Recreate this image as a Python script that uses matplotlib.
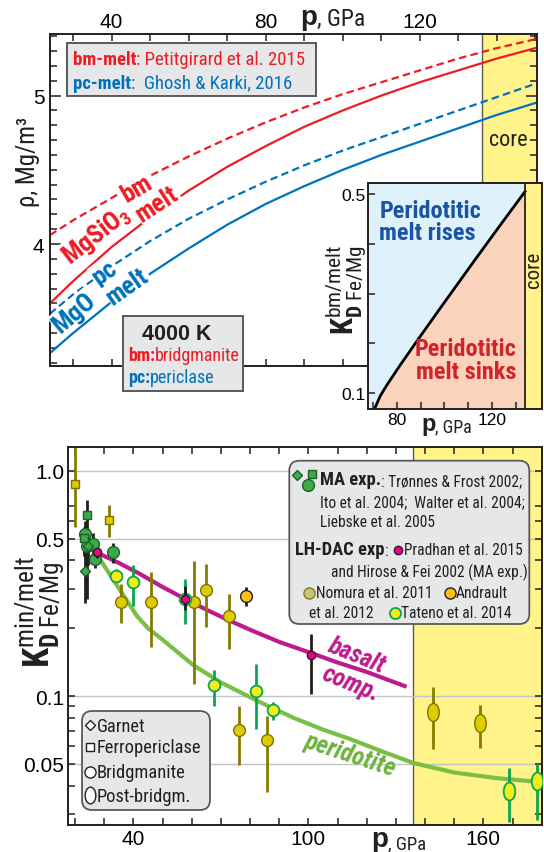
import numpy as np
import matplotlib
matplotlib.use('Agg')
import matplotlib.pyplot as plt
from matplotlib import font_manager as fm
from matplotlib.patches import Rectangle, FancyBboxPatch
from matplotlib.path import Path
from matplotlib.ticker import FixedLocator, FixedFormatter, NullFormatter

# ---- fonts: look for a condensed sans, else fall back to Liberation Sans ----
ttf = fm.fontManager.ttflist
names = {f.name for f in ttf}
WIDE = 'Liberation Sans' if 'Liberation Sans' in names else 'DejaVu Sans'
NARROW = None
for n in ['Liberation Sans Narrow', 'Arial Narrow', 'Roboto Condensed', 'Noto Sans Condensed',
          'Noto Sans SemiCondensed', 'Open Sans Condensed', 'DejaVu Sans Condensed']:
    if n in names:
        NARROW = dict(family=n)
        break
if NARROW is None:
    for fam in ['Noto Sans', 'Open Sans', 'Roboto', 'DejaVu Sans', 'Liberation Sans']:
        st = {f.stretch for f in ttf if f.name == fam}
        if 'semi-condensed' in st:
            NARROW = dict(family=fam, stretch='semi-condensed')
        elif 'condensed' in st:
            NARROW = dict(family=fam, stretch='condensed')
        if NARROW:
            break
SC = 1.0
if NARROW is None:
    NARROW = dict(family=WIDE)
    SC = 0.86
_suffix = (':' + NARROW['stretch']) if 'stretch' in NARROW else ''

plt.rcParams['font.family'] = [WIDE, 'DejaVu Sans']
plt.rcParams['mathtext.fontset'] = 'custom'
plt.rcParams['mathtext.rm'] = NARROW['family'] + _suffix
plt.rcParams['mathtext.bf'] = NARROW['family'] + ':bold' + _suffix
plt.rcParams['mathtext.it'] = NARROW['family'] + ':italic' + _suffix


def nf(size):
    return size * SC


# ---- top panel: density at 4000 K ----
p_rho = [24, 30, 40, 50, 60, 70, 80, 90, 100, 110, 120, 130, 140, 150]
rho_bm = [4.06, 4.16, 4.31, 4.46, 4.59, 4.71, 4.82, 4.92, 5.01, 5.09, 5.17, 5.25, 5.32, 5.38]
rho_bm_melt = [3.60, 3.75, 3.98, 4.18, 4.36, 4.52, 4.66, 4.79, 4.90, 5.00, 5.09, 5.17, 5.25, 5.32]
rho_pc = [3.53, 3.66, 3.85, 4.02, 4.17, 4.30, 4.42, 4.53, 4.63, 4.72, 4.81, 4.90, 4.99, 5.08]
rho_pc_melt = [3.265, 3.40, 3.61, 3.80, 3.97, 4.13, 4.27, 4.39, 4.50, 4.60, 4.69, 4.78, 4.87, 4.95]

# ---- inset: KD bm/melt boundary ----
p_in = [70.6, 73, 75.8, 81.4, 88.4, 98.2, 112.2, 123.5, 134]
kd_in = [0.068, 0.094, 0.116, 0.156, 0.204, 0.27, 0.363, 0.437, 0.505]

# ---- bottom panel curves ----
p_bas = [27.4, 35, 42.3, 50, 57.7, 65, 72, 80, 90, 101.7, 110, 120, 133.7]
kd_bas = [0.434, 0.39, 0.348, 0.305, 0.27, 0.242, 0.219, 0.197, 0.174, 0.154, 0.141, 0.128, 0.110]
p_per = [27.4, 33, 41.2, 45, 50, 60.6, 70, 83.4, 95, 105, 114.3, 125, 136, 150, 165, 181]
kd_per = [0.427, 0.33, 0.227, 0.2, 0.178, 0.137, 0.115, 0.094, 0.08, 0.071, 0.0645, 0.057,
          0.0505, 0.0458, 0.0432, 0.0414]

# MA experiments (green): bridgmanite, ferropericlase, garnet
ma_bm_p = [23.4, 24.0, 26.3, 26.9, 32.9]
ma_bm_k = [0.524, 0.462, 0.473, 0.406, 0.434]
ma_bm_lo = [0.44, 0.27, 0.41, 0.37, 0.39]
ma_bm_hi = [0.60, 0.55, 0.53, 0.44, 0.48]
ma_fp_p = [24.2, 23.1]
ma_fp_k = [0.636, 0.501]
ma_fp_lo = [0.50, 0.42]
ma_fp_hi = [0.74, 0.56]
ma_gt_p = [24.6, 23.4]
ma_gt_k = [0.465, 0.360]
ma_gt_lo = [0.38, 0.26]
ma_gt_hi = [0.55, 0.44]

# Nomura et al. 2011
nom_fp_p = [20.0, 31.8]
nom_fp_k = [0.873, 0.606]
nom_fp_lo = [0.561, 0.506]
nom_fp_hi = [1.4, 0.704]
nom_bm_p = [35.8, 46.1, 60.9, 64.8, 72.9, 76.1, 85.7]
nom_bm_k = [0.262, 0.261, 0.261, 0.296, 0.226, 0.0705, 0.0641]
nom_bm_lo = [0.212, 0.165, 0.113, 0.202, 0.162, 0.0494, 0.0375]
nom_bm_hi = [0.314, 0.354, 0.399, 0.386, 0.284, 0.0905, 0.0819]
nom_pbm_p = [142.8, 159.0]
nom_pbm_k = [0.085, 0.0758]
nom_pbm_lo = [0.0585, 0.0591]
nom_pbm_hi = [0.110, 0.0912]

# Tateno et al. 2014
tat_bm_p = [34.0, 39.8, 57.7, 67.8, 82.0, 87.8]
tat_bm_k = [0.342, 0.320, 0.270, 0.112, 0.105, 0.0868]
tat_bm_lo = [0.321, 0.252, 0.209, 0.0903, 0.0717, 0.078]
tat_bm_hi = [0.366, 0.381, 0.33, 0.130, 0.139, 0.0938]
tat_pbm_p = [168.9, 178.5]
tat_pbm_k = [0.038, 0.0421]
tat_pbm_lo = [0.0276, 0.0282]
tat_pbm_hi = [0.0481, 0.0502]

# Pradhan et al. 2015 / Hirose & Fei 2002
pra_p = [27.4, 57.7, 100.8]
pra_k = [0.434, 0.270, 0.152]
pra_lo = [0.41, 0.24, 0.102]
pra_hi = [0.45, 0.309, 0.189]

# Andrault et al. 2012
and_p = [78.5]
and_k = [0.277]
and_lo = [0.252]
and_hi = [0.304]

RED = '#ed1c24'
BLUE = '#0072bc'
CORE = '#fff38a'
DARK = '#231f20'
GRAYBOX = '#e6e7e8'
MAG = '#bd1b8d'
GRN = '#79bf43'
MA_F, MA_E = '#3daa4a', '#1f5f2b'
NOM_F, NOM_E = '#dfcb00', '#7d7300'
TAT_F, TAT_E = '#f4ec18', '#0aa64f'
AND_F = '#fdc010'
PRA_F = '#ec008c'

W, H = 544, 853
fig = plt.figure(figsize=(W / 100, H / 100), dpi=100)


def box(x0, y0, x1, y1):
    return [x0 / W, 1 - y1 / H, (x1 - x0) / W, (y1 - y0) / H]


def style_spines(ax, lw=1.4):
    for s in ax.spines.values():
        s.set_linewidth(lw)
        s.set_color(DARK)


# ================= top panel =================
ax1 = fig.add_axes(box(50, 35, 537, 366.7))
ax1.axvspan(136, 160, color=CORE, lw=0, zorder=0)
ax1.axvline(136, color='#58595b', lw=1, zorder=0.5)
dash = (0, (3.4, 1.9))
ax1.plot(p_rho, rho_bm, color=RED, lw=1.6, ls=dash)
ax1.plot(p_rho, rho_bm_melt, color=RED, lw=1.6)
ax1.plot(p_rho, rho_pc, color=BLUE, lw=1.6, ls=dash)
ax1.plot(p_rho, rho_pc_melt, color=BLUE, lw=1.6)
ax1.set_xlim(24, 150.4)
ax1.set_ylim(3.18, 5.415)
ax1.xaxis.set_major_locator(FixedLocator([40, 80, 120]))
ax1.xaxis.set_minor_locator(FixedLocator(list(range(30, 151, 10))))
ax1.yaxis.set_major_locator(FixedLocator([4, 5]))
ax1.yaxis.set_minor_locator(FixedLocator(np.arange(3.2, 5.45, 0.1)))
ax1.tick_params(axis='x', which='both', direction='in', top=True, bottom=True,
                labeltop=True, labelbottom=False, length=5, width=1.1, color=DARK,
                labelsize=15, pad=2)
ax1.tick_params(axis='y', which='both', direction='in', left=True, right=True,
                length=5, width=1.1, color=DARK, labelsize=15, pad=4)
ax1.tick_params(axis='y', which='major', length=8)
style_spines(ax1)

# ================= inset =================
ax2 = fig.add_axes(box(368.3, 184, 541.7, 410))
ax2.set_zorder(3)
ax2.set_facecolor('#dff1fb')
ax2.fill_between(p_in, 0, kd_in, color='#fbd3bd', lw=0)
ax2.plot(p_in, kd_in, color='k', lw=2)
ax2.axvspan(134, 145, color=CORE, lw=0)
ax2.axvline(134, color=DARK, lw=1.3)
ax2.set_xlim(68, 141)
ax2.set_ylim(0.068, 0.522)
ax2.xaxis.set_major_locator(FixedLocator([80, 120]))
ax2.xaxis.set_minor_locator(FixedLocator([70, 90, 100, 110, 130]))
ax2.yaxis.set_major_locator(FixedLocator([0.1, 0.5]))
ax2.yaxis.set_major_formatter(FixedFormatter(['0.1', '0.5']))
ax2.yaxis.set_minor_locator(FixedLocator([0.2, 0.3, 0.4]))
ax2.tick_params(which='both', direction='in', length=5, width=1.1, color=DARK,
                labelsize=12.5, pad=2)
style_spines(ax2)

# ================= bottom panel =================
ax3 = fig.add_axes(box(68.3, 448.3, 542, 826))
ax3.set_yscale('log')
ax3.axvspan(136, 190, color=CORE, lw=0, zorder=0)
ax3.axvline(136, color='#58595b', lw=1, zorder=0.5)
for g in [1.0, 0.5, 0.1, 0.05]:
    ax3.axhline(g, color='#c3c4c6', lw=1, zorder=0.6)
ax3.plot(p_bas, kd_bas, color=MAG, lw=3, zorder=1.5, solid_capstyle='butt')
ax3.plot(p_per, kd_per, color=GRN, lw=3, zorder=1.5, solid_capstyle='butt')

ell = Path.unit_circle()
ELL = Path(ell.vertices * np.array([0.64, 1.0]), ell.codes)


def errs(p, lo, hi, c, z=2):
    ax3.vlines(p, lo, hi, color=c, lw=2.0, zorder=z)


def pts(p, k, m, ms, fc, ec, z=3, mew=1.0):
    ax3.plot(p, k, ls='none', marker=m, ms=ms, mfc=fc, mec=ec, mew=mew, zorder=z)


errs(nom_fp_p, nom_fp_lo, nom_fp_hi, '#857b00')
errs(nom_bm_p, nom_bm_lo, nom_bm_hi, '#857b00')
errs(nom_pbm_p, nom_pbm_lo, nom_pbm_hi, '#857b00')
errs(tat_bm_p, tat_bm_lo, tat_bm_hi, TAT_E)
errs(tat_pbm_p, tat_pbm_lo, tat_pbm_hi, TAT_E)
errs(ma_bm_p, ma_bm_lo, ma_bm_hi, DARK)
errs(ma_fp_p, ma_fp_lo, ma_fp_hi, DARK)
errs(ma_gt_p, ma_gt_lo, ma_gt_hi, DARK)
errs(and_p, and_lo, and_hi, DARK)
errs(pra_p, pra_lo, pra_hi, DARK, z=3.5)

pts(nom_fp_p, nom_fp_k, 's', 6, NOM_F, NOM_E)
pts(nom_bm_p, nom_bm_k, 'o', 8.5, NOM_F, NOM_E)
pts(nom_pbm_p, nom_pbm_k, ELL, 13, NOM_F, NOM_E)
pts(tat_bm_p, tat_bm_k, 'o', 8.5, TAT_F, TAT_E, mew=1.3)
pts(tat_pbm_p, tat_pbm_k, ELL, 13, TAT_F, TAT_E, mew=1.3)
pts(ma_bm_p, ma_bm_k, 'o', 8.5, MA_F, MA_E)
pts(ma_fp_p, ma_fp_k, 's', 6, MA_F, MA_E)
pts(ma_gt_p, ma_gt_k, 'D', 5.5, MA_F, MA_E)
pts(and_p, and_k, 'o', 8.5, AND_F, DARK)
pts(pra_p, pra_k, 'o', 6, PRA_F, DARK, z=4)

ax3.set_xlim(17.7, 180.1)
ax3.set_ylim(0.0268, 1.27)
ax3.xaxis.set_major_locator(FixedLocator([40, 100, 160]))
ax3.xaxis.set_minor_locator(FixedLocator(list(range(20, 181, 10))))
ax3.yaxis.set_major_locator(FixedLocator([0.05, 0.1, 0.5, 1.0]))
ax3.yaxis.set_major_formatter(FixedFormatter(['0.05', '0.1', '0.5', '1.0']))
ax3.yaxis.set_minor_locator(FixedLocator([0.03, 0.04, 0.06, 0.07, 0.08, 0.09,
                                          0.2, 0.3, 0.4, 0.6, 0.7]))
ax3.yaxis.set_minor_formatter(NullFormatter())
ax3.tick_params(which='both', direction='in', top=True, right=True, length=5,
                width=1.1, color=DARK, labelsize=15, pad=3)
style_spines(ax3)

# ================= overlay (pixel coordinates) =================
ov = fig.add_axes([0, 0, 1, 1])
ov.set_xlim(0, W)
ov.set_ylim(H, 0)
ov.axis('off')
ov.patch.set_visible(False)
ov.set_zorder(5)


def chain(x, y, parts, **kw):
    t = ov.text(x, y, parts[0][0], va='baseline', **{**kw, **parts[0][1]})
    for s, st in parts[1:]:
        t = ov.annotate(s, xy=(1, 0), xycoords=t, va='bottom', annotation_clip=False,
                        **{**kw, **st})
    return t


B = dict(weight='bold')

# top legend
ov.add_patch(Rectangle((67.3, 44), 248.7, 52.7, fc=GRAYBOX, ec='#58595b', lw=1.4))
chain(73, 65, [('bm-melt', B), (': Petitgirard et al. 2015', {})],
      color=RED, fontsize=nf(13.5), **NARROW)
chain(73, 88.5, [('pc-melt', B), (':  Ghosh & Karki, 2016', {})],
      color=BLUE, fontsize=nf(13.5), **NARROW)

# 4000 K box
ov.add_patch(Rectangle((122.7, 316.7), 120.6, 75, fc=GRAYBOX, ec='#58595b', lw=1.4))
ov.text(176.7, 340, '4000 K', ha='center', va='baseline', fontsize=15.5, weight='bold',
        family=WIDE, color=DARK)
chain(127.7, 361, [('bm:', B), ('bridgmanite', {})], color=RED,
      fontsize=nf(13), **NARROW)
chain(127.7, 382.5, [('pc:', B), ('periclase', {})], color=BLUE,
      fontsize=nf(13), **NARROW)

# curve labels (white background breaks the line)
lab = dict(fontsize=nf(18.5), weight='bold', ha='center', va='center',
           rotation_mode='anchor', bbox=dict(fc='white', ec='none', pad=0.6), **NARROW)
ov.text(136.7, 189, 'bm', color=RED, rotation=30, **lab)
ov.text(96.7, 235.5, r'MgSiO$_\mathbf{3}$', color=RED, rotation=38, **lab)
ov.text(157.5, 205, 'melt', color=RED, rotation=33, **lab)
ov.text(105, 273, 'pc', color=BLUE, rotation=35, **lab)
ov.text(74, 313, 'MgO', color=BLUE, rotation=40, **lab)
ov.text(127.5, 286.7, 'melt', color=BLUE, rotation=35, **lab)

ov.text(508, 140, 'core', ha='center', va='center', fontsize=nf(16), color=DARK, **NARROW)

# axis labels, top
ov.text(28, 162, 'ρ, Mg/m³', rotation=90, ha='center', va='center', fontsize=nf(18),
        color=DARK, **NARROW)
chain(300, 25, [('p', dict(weight='bold', fontsize=20, family=WIDE)),
                (', GPa', dict(fontsize=nf(17), **NARROW))], color=DARK)

# inset texts
ov.text(379.3, 200, 'Peridotitic\nmelt rises', color='#1b54a3', fontsize=nf(17.5),
        weight='bold', ha='left', va='top', linespacing=0.95, **NARROW)
ov.text(466, 361, 'Peridotitic\nmelt sinks', color='#d2232a', fontsize=nf(17.5),
        weight='bold', ha='center', va='center', multialignment='center',
        linespacing=0.95, **NARROW)
ov.text(533.5, 270, 'core', rotation=90, ha='center', va='center', fontsize=nf(15),
        color=DARK, **NARROW)
ov.text(346, 290, r'$\mathbf{K}_{\mathbf{D}\ \mathrm{Fe/Mg}}^{\mathrm{bm/melt}}$',
        rotation=90, ha='center', va='center', fontsize=nf(22), color=DARK)
chain(421, 431, [('p', dict(weight='bold', fontsize=17, family=WIDE)),
                 (', GPa', dict(fontsize=nf(13), **NARROW))], color=DARK)

# bottom panel labels
ov.text(40, 612, r'$\mathbf{K}_{\mathbf{D}\ \mathrm{Fe/Mg}}^{\mathrm{min/melt}}$',
        rotation=90, ha='center', va='center', fontsize=nf(26), color=DARK)
chain(371, 847, [('p', dict(weight='bold', fontsize=20, family=WIDE)),
                 (', GPa', dict(fontsize=nf(13.5), **NARROW))], color=DARK)

cl = dict(fontsize=nf(18), weight='bold', style='italic', ha='center', va='center',
          rotation_mode='anchor', **NARROW)
ov.text(356, 656, 'basalt', color=MAG, rotation=-22, **cl)
ov.text(351, 684, 'comp.', color=MAG, rotation=-22, **cl)
ov.text(351, 755, 'peridotite', color='#6cb33f', rotation=-18, **cl)

# data-source legend
ov.add_patch(FancyBboxPatch((289.3, 461.7), 240, 163.3,
                            boxstyle='round,pad=0,rounding_size=10',
                            fc=GRAYBOX, ec='#58595b', lw=1.3))
fs = nf(11.2)
fb = nf(13.3)
ov.plot([297], [476], marker='D', ms=5.5, mfc=MA_F, mec=MA_E, ls='none')
ov.plot([312], [475], marker='s', ms=5.5, mfc=MA_F, mec=MA_E, ls='none')
ov.plot([307.5], [486], marker='o', ms=8.5, mfc=MA_F, mec=MA_E, ls='none')
chain(320, 485, [('MA exp.', dict(weight='bold', fontsize=fb)),
                 (': Trønnes & Frost 2002;', {})], color=DARK, fontsize=fs, **NARROW)
ov.text(320, 506.7, 'Ito et al. 2004;  Walter et al. 2004;', va='baseline', color=DARK,
        fontsize=fs, **NARROW)
ov.text(320, 526.7, 'Liebske et al. 2005', va='baseline', color=DARK, fontsize=fs,
        **NARROW)
chain(295, 555, [('LH-DAC exp', dict(weight='bold', fontsize=fb)), (':', {})],
      color=DARK, fontsize=fs, **NARROW)
ov.plot([398.3], [550.5], marker='o', ms=6, mfc=PRA_F, mec=DARK, ls='none')
ov.text(404.5, 555, 'Pradhan et al. 2015', va='baseline', color=DARK, fontsize=fs,
        **NARROW)
ov.text(330.7, 576.7, 'and Hirose & Fei 2002 (MA exp.)', va='baseline', color=DARK,
        fontsize=fs, **NARROW)
ov.plot([309.3], [594], marker='o', ms=8, mfc='#c9c08f', mec='#8a8000', ls='none')
ov.text(315.5, 598.3, 'Nomura et al. 2011', va='baseline', color=DARK, fontsize=fs,
        **NARROW)
ov.plot([450], [594], marker='o', ms=8, mfc=AND_F, mec=DARK, ls='none')
ov.text(455.5, 598.3, 'Andrault', va='baseline', color=DARK, fontsize=fs, **NARROW)
ov.text(309.3, 618.3, 'et al. 2012', va='baseline', color=DARK, fontsize=fs, **NARROW)
ov.plot([395], [614], marker='o', ms=8, mfc=TAT_F, mec=TAT_E, mew=1.3, ls='none')
ov.text(400.7, 618.3, 'Tateno et al. 2014', va='baseline', color=DARK, fontsize=fs,
        **NARROW)

# phase legend
ov.add_patch(FancyBboxPatch((82, 712), 128, 99, boxstyle='round,pad=0,rounding_size=10',
                            fc=GRAYBOX, ec='#58595b', lw=1.3))
for yy, m, ms in [(726, 'D', 5.5), (747.5, 's', 6), (772.5, 'o', 8), (796, ELL, 12)]:
    ov.plot([90], [yy], marker=m, ms=ms, mfc='white', mec=DARK, mew=1.0, ls='none')
for yy, s in [(731.7, 'Garnet'), (753.3, 'Ferropericlase'), (778.3, 'Bridgmanite'),
              (801.7, 'Post-bridgm.')]:
    ov.text(96.5, yy, s, va='baseline', color=DARK, fontsize=nf(13.3), **NARROW)

fig.savefig('out.png', dpi=100)
